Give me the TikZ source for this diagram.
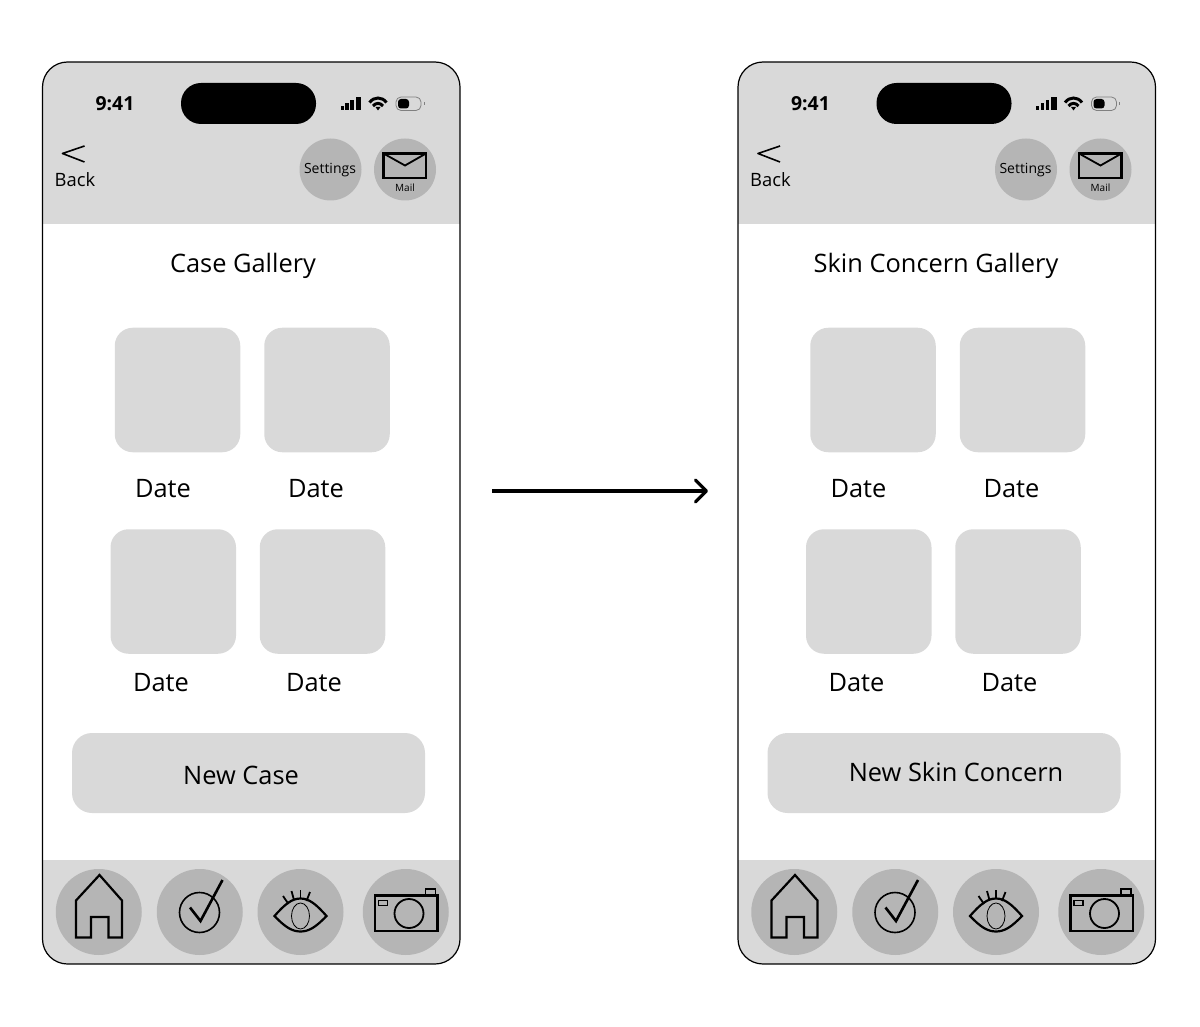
\documentclass[tikz,border=0pt]{standalone}
\usepackage{fontspec}
\setmainfont{Open Sans}
\usetikzlibrary{arrows.meta}
\definecolor{mylightgray}{HTML}{D9D9D9}
\definecolor{mydarkgray}{HTML}{B5B5B5}
\tikzset{
	phonenode/.style={
			rectangle,
			rounded corners=12.5pt,
			draw=black,
			line width=0.6pt,
			minimum width=208.75pt,
			minimum height=451pt,
			inner sep=0pt
		},
	thumbnode/.style={
			rectangle,
			rounded corners=9pt,
			fill=mylightgray,
			minimum width=62.75pt,
			minimum height=62.25pt,
			inner sep=0pt
		},
	buttonnode/.style={
			rectangle,
			rounded corners=10pt,
			fill=mylightgray,
			minimum width=176.5pt,
			minimum height=40pt,
			inner sep=0pt
		},
	islandnode/.style={
			rectangle,
			rounded corners=10pt,
			fill=black,
			minimum width=67.5pt,
			minimum height=20.5pt,
			inner sep=0pt
		},
	headcircle/.style={
			circle,
			fill=mydarkgray,
			minimum size=31pt,
			inner sep=0pt
		},
	tabcircle/.style={
			circle,
			fill=mydarkgray,
			minimum size=43pt,
			inner sep=0pt
		},
	labelnode/.style={
			inner sep=0pt,
			font=\fontsize{12.7}{15}\selectfont
		},
	icon/.style={
			draw=black,
			line width=1.1pt
		}
}
% one phone screen: name, shift, title, title x, button text, button text x, y
\newcommand{\phonescreen}[7]{
\begin{scope}[shift={(#2,0)}, name prefix=#1]
\begin{scope}
\clip[rounded corners=12.5pt] (42.5,62) rectangle (460,964);
\fill[mylightgray] (42.5,62) rectangle (460,224);
\fill[mylightgray] (42.5,860) rectangle (460,964);
\end{scope}
\node[phonenode] (phone) at (251.25,513) {};
\node[islandnode] (island) at (248.5,103.5) {};
\node[inner sep=0pt, font=\fontsize{9.7}{11}\selectfont\bfseries] (time) at (115,104) {9:41};

\fill (340.5,110) rectangle (343.7,106);
\fill (345,110) rectangle (348.5,103.5);
\fill (350,110) rectangle (353.7,100);
\fill (355.5,110) rectangle (361,97);
\draw[line width=1.5pt] (369.5,102.5) .. controls (374,96.5) and (382,96.5) .. (386.5,102.5);
\draw[line width=1.5pt] (373,106) .. controls (376,102.5) and (380,102.5) .. (383,106);
\fill (375.5,107) -- (378,110.5) -- (380.5,107) -- cycle;
\draw[gray, line width=0.4pt, rounded corners=2.5pt] (396,97) rectangle (421,110.5);
\fill[rounded corners=1.5pt] (398,99) rectangle (409,108.5);
\fill[gray] (423.5,102.5) rectangle (424.2,105);

\draw[line width=0.8pt, line join=round] (84.5,146) -- (62.5,153.5) -- (84.5,162);
\node[labelnode, font=\fontsize{9.2}{11}\selectfont] (back) at (75,180) {Back};
\node[headcircle] (settingscircle) at (330.5,169.5) {};
\node[inner sep=0pt, font=\fontsize{7}{8}\selectfont] (settings) at (330,170.5) {Settings};
\node[headcircle] (mailcircle) at (405,169.5) {};
\draw[icon] (383.5,153.5) rectangle (426,178);
\draw[line width=0.9pt] (383.5,153.5) -- (405,165.5) -- (426,153.5);
\node[inner sep=0pt, font=\fontsize{5}{6}\selectfont] (mail) at (405,188) {Mail};

\node[labelnode] (title) at (#4,266) {#3};
\node[thumbnode] (thumba) at (177.5,390) {};
\node[thumbnode] (thumbb) at (327,390) {};
\node[thumbnode] (thumbc) at (173.25,591.5) {};
\node[thumbnode] (thumbd) at (322.5,591.5) {};
\node[labelnode] (datea) at (163,489) {Date};
\node[labelnode] (dateb) at (316,489) {Date};
\node[labelnode] (datec) at (161,683) {Date};
\node[labelnode] (dated) at (314,683) {Date};
\node[buttonnode] (button) at (248.5,773) {};
\node[labelnode] (buttontext) at (#6,#7) {#5};

\node[tabcircle] (home) at (98.75,912) {};
\node[tabcircle] (check) at (199.75,912) {};
\node[tabcircle] (eye) at (300.5,912) {};
\node[tabcircle] (camera) at (405.75,912) {};

\draw[icon] (76,937.5) -- (76,900.5) -- (99.5,875) -- (122,900.5) -- (122,937.5) -- (108.5,937.5) -- (108.5,917) -- (91,917) -- (91,937.5) -- cycle;

\draw[line width=0.8pt] (199.5,912.5) circle (20);
\draw[icon, line width=1.3pt] (190,907.5) -- (200.5,921) -- (222.5,880);

\draw[icon] (274.5,916) .. controls (285,904) and (292,898.5) .. (300.5,898.5) .. controls (309,898.5) and (316,904) .. (326.5,916) .. controls (316,927) and (309,931.5) .. (300.5,931.5) .. controls (292,931.5) and (285,927) .. (274.5,916) -- cycle;
\draw[line width=0.4pt] (300.5,916) ellipse (9 and 13);
\draw[line width=0.9pt] (283,896) -- (288.5,904);
\draw[line width=0.9pt] (291.5,891) -- (294,900);
\draw[line width=0.9pt] (300.5,890) -- (300.5,899);
\draw[line width=0.9pt] (310,892) -- (306.5,901);

\draw[icon] (375,895.5) rectangle (437.5,931);
\draw[line width=0.8pt] (425.5,895.5) rectangle (435.5,889);
\draw[line width=0.8pt] (378.5,900.5) rectangle (387.5,905.5);
\draw[line width=0.9pt] (409,913.5) circle (14.5);
\end{scope}
}

\begin{document}
\begin{tikzpicture}[x=0.5pt, y=-0.5pt]
\useasboundingbox (0,0) rectangle (1200,1027);
\phonescreen{left}{0}{Case Gallery}{243}{New Case}{241}{775}
\phonescreen{right}{695.5}{Skin Concern Gallery}{240.5}{New Skin Concern}{260.5}{771.5}

\coordinate (arrowstart) at (492,491);
\coordinate (arrowend) at (708,491);
\draw[line width=1.6pt, -{Straight Barb[length=5.5pt, width=11pt, round]}] (arrowstart) -- (arrowend);
\end{tikzpicture}
\end{document}
